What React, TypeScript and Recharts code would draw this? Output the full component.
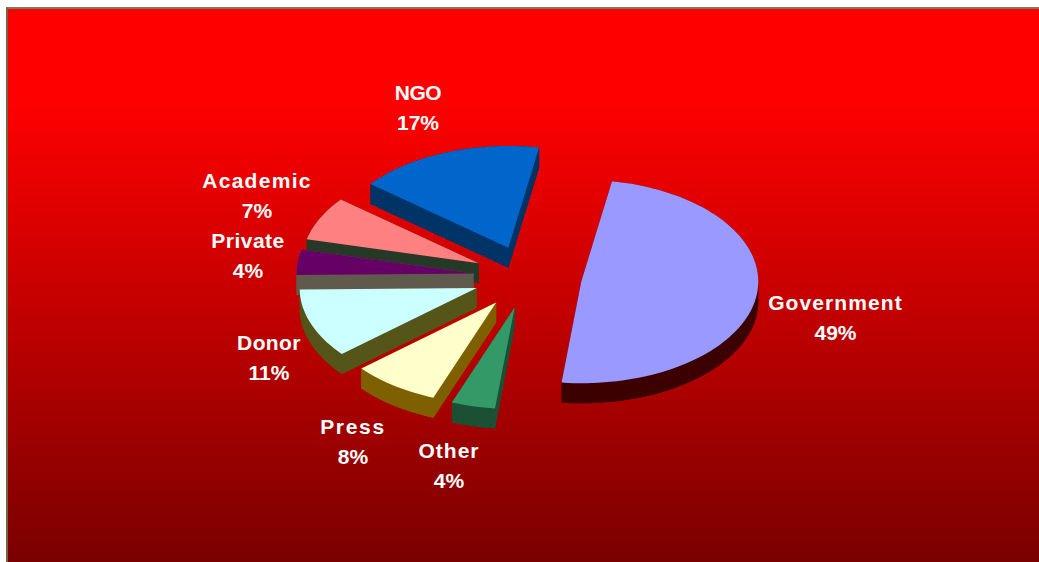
import React from "react";
import { PieChart, Pie } from "recharts";

const W = 1039;
const H = 562;

// Listed back to front, running anticlockwise from the start of the pie.
const names = ["NGO", "Academic", "Private", "Donor", "Press", "Other", "Government"];
const shares = [17, 7, 4, 11, 8, 4, 49];
const topColors = ["#0066cc", "#ff8080", "#660066", "#ccffff", "#ffffcc", "#339966", "#9999ff"];
const sideColors = ["#003366", "#263826", "#5f5a4c", "#55551a", "#7f6000", "#1c5035", "#3c0000"];
const labelCenters = [
  [418, 107],
  [257, 195],
  [248, 255],
  [269, 357],
  [353, 441],
  [449, 465],
  [835.5, 317],
];
const labelSpacing = [-0.4, 1.3, 0.5, 0.4, 1.7, 1, 1.1];

const data = names.map((name, i) => ({
  name,
  value: shares[i],
  top: topColors[i],
  side: sideColors[i],
}));

const SQUASH = 0.575;
const EXPLODE = 0.307;
const DEPTH = 20;
const RAD = Math.PI / 180;

function Slice3D(props: any) {
  const { cx, cy, outerRadius: r, startAngle, endAngle, payload } = props;
  const mid = (startAngle + endAngle) / 2;
  const ax = cx + Math.cos(mid * RAD) * r * EXPLODE;
  const ay = cy - Math.sin(mid * RAD) * r * EXPLODE * SQUASH;
  const pts: [number, number][] = [[ax, ay]];
  const steps = Math.max(2, Math.ceil(Math.abs(endAngle - startAngle) / 2));
  for (let i = 0; i <= steps; i++) {
    const a = startAngle + ((endAngle - startAngle) * i) / steps;
    pts.push([ax + Math.cos(a * RAD) * r, ay - Math.sin(a * RAD) * r * SQUASH]);
  }
  const poly = (dy: number) => pts.map((p) => `${p[0].toFixed(2)},${(p[1] + dy).toFixed(2)}`).join(" ");
  const quads = pts.map((p, i) => {
    const q = pts[(i + 1) % pts.length];
    return `${p[0]},${p[1]} ${q[0]},${q[1]} ${q[0]},${q[1] + DEPTH} ${p[0]},${p[1] + DEPTH}`;
  });
  return (
    <g>
      <polygon points={poly(DEPTH)} fill={payload.side ?? props.side} />
      {quads.map((q, i) => (
        <polygon key={i} points={q} fill={payload.side ?? props.side} />
      ))}
      <polygon points={poly(0)} fill={payload.top ?? props.top} />
    </g>
  );
}

function SliceLabel(props: any) {
  const { index, name, value } = props;
  const [x, y] = labelCenters[index];
  return (
    <text
      x={x}
      y={y}
      textAnchor="middle"
      fill="#ffffff"
      style={{ fontFamily: "'Liberation Sans', Arial, sans-serif", fontWeight: 700, fontSize: 21 }}
    >
      <tspan x={x} y={y - 7.5} letterSpacing={labelSpacing[index]}>{name}</tspan>
      <tspan x={x} y={y + 22.5}>{`${value}%`}</tspan>
    </text>
  );
}

export default function App() {
  return (
    <div style={{ position: "fixed", left: 0, top: 0, width: W, height: H, background: "#ffffff", overflow: "hidden" }}>
      <div
        style={{
          position: "absolute",
          left: 6,
          top: 7,
          width: W - 6,
          height: H - 7,
          boxSizing: "border-box",
          borderLeft: "2px solid #6f6545",
          borderTop: "2px solid #7f7a5f",
          background: "linear-gradient(180deg, #ff0000 0%, #ff0000 16.5%, #7a0000 100%)",
        }}
      />
      <div style={{ position: "absolute", left: 0, top: 0 }}>
        <PieChart width={W} height={H} margin={{ top: 0, right: 0, bottom: 0, left: 0 }}>
          <Pie
            data={data}
            dataKey="value"
            nameKey="name"
            cx={527.5}
            cy={277}
            innerRadius={0}
            outerRadius={177}
            startAngle={80}
            endAngle={440}
            paddingAngle={0}
            stroke="none"
            isAnimationActive={false}
            labelLine={false}
            label={SliceLabel}
            shape={Slice3D}
          />
        </PieChart>
      </div>
    </div>
  );
}
